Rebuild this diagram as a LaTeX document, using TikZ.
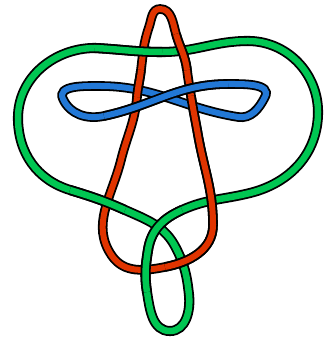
\documentclass[tikz,border=0pt]{standalone}
\usepackage{tikz}
\usetikzlibrary{calc}
\definecolor{KnotGreen}{RGB}{0,198,82}
\definecolor{KnotRed}{RGB}{224,52,0}
\definecolor{KnotBlue}{RGB}{34,120,214}

\begin{document}
\begin{tikzpicture}[x=1pt,y=1pt,
    band/.style={draw=black,line width=1.8pt,double distance=6pt},
    greenband/.style={band,double=KnotGreen,double distance=6.5pt},
    redband/.style={band,double=KnotRed},
    blueband/.style={band,double=KnotBlue}]
  \useasboundingbox (0,0) rectangle (323,344);
  % green loop with the small loop at the bottom
  \coordinate (g1) at (18,226);
  \coordinate (g2) at (95,296);
  \coordinate (g3) at (162,292);
  \coordinate (g4) at (248,303);
  \coordinate (g5) at (318,232);
  \coordinate (g6) at (250,151);
  \coordinate (g7) at (182,134);
  \coordinate (g8) at (148,94);
  \coordinate (g9) at (147,52);
  \coordinate (g10) at (170,13);
  \coordinate (g11) at (189,49);
  \coordinate (g12) at (176,96);
  \coordinate (g13) at (125,134);
  \coordinate (g14) at (70,154);
  % red loop
  \coordinate (r0) at (160,335);
  \coordinate (r1) at (176,310);
  \coordinate (r2) at (187,274);
  \coordinate (r3) at (191,248);
  \coordinate (r4) at (198,209);
  \coordinate (r5) at (213,119);
  \coordinate (r6) at (165,77);
  \coordinate (r7) at (112,88);
  \coordinate (r8) at (121,184);
  \coordinate (r9) at (137,247);
  \coordinate (r10) at (141,274);
  \coordinate (r11) at (149,317);
  % blue twisted loop
  \coordinate (b1) at (63,245);
  \coordinate (b2) at (104,228);
  \coordinate (b3) at (228,260);
  \coordinate (b4) at (265,247);
  \coordinate (b5) at (238,227);
  \coordinate (b6) at (100,258);

  \draw[greenband] (g1) to[out=90,in=180] (g2) to[out=-3,in=180] (g3)
    to[out=0,in=180] (g4) to[out=0,in=90] (g5) to[out=-90,in=14] (g6)
    to[out=194,in=24] (g7) to[out=204,in=81] (g8) to[out=261,in=99] (g9)
    to[out=-81,in=180] (g10) to[out=0,in=-84] (g11) to[out=96,in=-63] (g12)
    to[out=117,in=-24] (g13) to[out=156,in=-17] (g14) to[out=163,in=-90] cycle;
  \draw[redband] (r0) to[out=0,in=106] (r1) to[out=-74,in=97] (r2)
    to[out=-83,in=99] (r3) to[out=-81,in=100] (r4) to[out=-80,in=90] (r5)
    to[out=-90,in=11] (r6) to[out=191,in=-55] (r7) to[out=125,in=-104] (r8)
    to[out=76,in=-95] (r9) to[out=85,in=-97] (r10) to[out=83,in=-109] (r11)
    to[out=71,in=180] cycle;
  \draw[blueband] (b1) to[out=-65,in=192] (b2) to[out=12,in=180] (b3)
    to[out=0,in=63] (b4) to[out=243,in=-9] (b5) to[out=171,in=0] (b6)
    to[out=180,in=115] cycle;

  % strands that pass over at the crossings
  \draw[greenband] (g2) to[out=-3,in=180] (g3);
  \draw[greenband] (g7) to[out=204,in=81] (g8) to[out=261,in=99] (g9);
  \draw[greenband] (g13) to[out=156,in=-17] (g14);
  \draw[redband] (r1) to[out=-74,in=97] (r2);
  \draw[redband] (r3) to[out=-81,in=100] (r4) to[out=-80,in=90] (r5)
    to[out=-90,in=11] (r6);
  \draw[redband] (r9) to[out=85,in=-97] (r10);
  \draw[blueband] (b2) to[out=12,in=180] (b3);
\end{tikzpicture}
\end{document}
